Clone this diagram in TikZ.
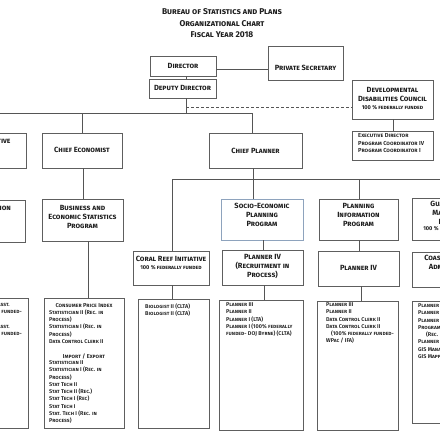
\documentclass[tikz,border=0pt]{standalone}
\usepackage{fontspec}
\setmainfont{Fira Sans}[Letters=SmallCaps, UprightFont={Fira Sans SemiBold}, BoldFont={Fira Sans Bold}]
\usetikzlibrary{fit,calc}
\definecolor{ln}{HTML}{555555}
\definecolor{bd}{HTML}{5E5E5E}
\definecolor{bl}{HTML}{8EA3BD}
\definecolor{tx}{HTML}{1E1E1E}
\tikzset{
  box/.style={draw=bd, line width=0.75pt, inner sep=0pt},
  con/.style={draw=ln, line width=0.75pt},
  ttl/.style={font=\fontsize{7.5}{9}\selectfont\bfseries, text=tx, align=center, inner sep=0pt, text depth=0pt},
  tiny/.style={font=\fontsize{5.6}{6}\selectfont\bfseries, text=tx, inner sep=0pt, text depth=0pt},
  lst/.style={font=\fontsize{5.5}{7.25}\selectfont, text=tx, align=left, inner sep=0pt, anchor=north west},
  lstr/.style={font=\fontsize{5.5}{7.25}\selectfont, text=tx, align=right, inner sep=0pt, anchor=north east},
  hd/.style={font=\fontsize{5.7}{7.25}\selectfont, text=tx, inner sep=0pt, text depth=0pt}
}
\begin{document}
\begin{tikzpicture}[x=1pt,y=-1pt]
\useasboundingbox (0,0) rectangle (440,440);
\clip (0,0) rectangle (440,440);
% title
\node[font=\fontsize{8.4}{11.5}\selectfont\bfseries, text=tx, align=center, inner sep=0pt, text depth=0pt] (title) at (222,23.5) {Bureau of Statistics and Plans\\Organizational Chart\\Fiscal Year 2018};
% boxes
\node[box, fit={(150,56) (216,76)}] (dir) {};
\node[box, fit={(268,46) (343,80)}] (ps) {};
\node[box, fit={(149,79) (216,98)}] (dep) {};
\node[box, fit={(352,80) (433,119)}] (ddc) {};
\node[box, fit={(352,131) (433,160)}] (exe) {};
\node[box, fit={(-56,133) (26,168)}] (adm) {};
\node[box, fit={(42,133) (122,168)}] (ce) {};
\node[box, fit={(209,133) (302,168)}] (cp) {};
\node[box, fit={(-56,200) (25,242)}] (adn) {};
\node[box, fit={(42,199) (123,241)}] (bes) {};
\node[box, draw=bl, fit={(221,199) (303,240)}] (soc) {};
\node[box, fit={(319,199) (398,240)}] (pip) {};
\node[box, fit={(412,198) (496,240)}] (gcm) {};
\node[box, fit={(133,251) (209,285)}] (cor) {};
\node[box, fit={(222,250) (303,285)}] (p4r) {};
\node[box, fit={(318,251) (399,286)}] (p4) {};
\node[box, fit={(412,252) (496,287)}] (coa) {};
\node[box, fit={(-53,298) (28,428)}] (ll) {};
\node[box, fit={(44,298) (124,428)}] (cpi) {};
\node[box, fit={(138,299) (209,428)}] (bio) {};
\node[box, fit={(219,300) (303,430)}] (sl) {};
\node[box, fit={(317,301) (398,430)}] (pl) {};
\node[box, fit={(412,301) (496,423)}] (rl) {};
% box texts
\node[ttl] (dirT) at (183,65.5) {Director};
\node[ttl] (psT) at (305.5,68) {Private Secretary};
\node[ttl] (depT) at (182.5,88) {Deputy Director};
\node[ttl] (ddcT) at (392.5,94) {Developmental\\Disabilities Council};
\node[tiny] (ddcF) at (392.5,107.5) {100 \% federally funded};
\node[lst, font=\fontsize{5.8}{7.5}\selectfont] (exeT) at (358,133.5) {Executive Director\\Program Coordinator IV\\Program Coordinator I};
\node[ttl] (admT) at (-15,145.5) {Administrative\\Officer};
\node[ttl] (ceT) at (82,150) {Chief Economist};
\node[ttl] (cpT) at (255.5,151) {Chief Planner};
\node[ttl] (adnT) at (-15.5,212.5) {Administration\\Program};
\node[ttl] (besT) at (82.5,216.5) {Business and\\Economic Statistics\\Program};
\node[ttl] (socT) at (262,215) {Socio-Economic\\Planning\\Program};
\node[ttl] (pipT) at (358.5,215) {Planning\\Information\\Program};
\node[ttl] (gcmT) at (454,213) {Guam Coastal\\Management\\Program};
\node[tiny] (gcmF) at (454,228) {100 \% federally funded};
\node[ttl] (corT) at (171,259) {Coral Reef Initiative};
\node[tiny] (corF) at (171,267.5) {100 \% federally funded};
\node[ttl] (p4rT) at (262.5,266) {Planner IV\\(Recruitment in\\Process)};
\node[ttl] (p4T) at (358.5,268) {Planner IV};
\node[ttl] (coaT) at (454,262.5) {Coastal Program\\Administrator};
% lists
\node[lstr] (llT) at (22,302.5) {\mbox{Admin. Asst.\hspace{12pt}}\\\mbox{(100\% federally funded-}\\\mbox{WPac / IFA)\hspace{40pt}}\\\mbox{Admin. Asst.\hspace{12pt}}\\\mbox{(100\% federally funded-}\\\mbox{WPac / IFA)\hspace{40pt}}};
\node[hd] (cpiH) at (84,305) {Consumer Price Index};
\node[lst] (cpiT) at (49,309.5) {Statistician II (Rec. in\\Process)\\Statistician I (Rec. in\\Process)\\Data Control Clerk II};
\node[hd] (ieH) at (84,356) {Import / Export};
\node[lst] (ieT) at (49,360.5) {Statistician II\\Statistician I (Rec. in\\Process)\\Stat Tech II\\Stat Tech II (Rec.)\\Stat Tech I (Rec)\\Stat Tech I\\Stat. Tech I (Rec. in\\Process)};
\node[lst] (bioT) at (145,303.5) {Biologist II (CLTA)\\Biologist II (CLTA)};
\node[lst] (slT) at (226,302.5) {Planner III\\Planner II\\Planner I (LTA)\\Planner I (100\% federally\\funded- DOJ Byrne) (CLTA)};
\node[lst] (plT) at (326,302.5) {Planner III\\Planner II\\Data Control Clerk II\\Data Control Clerk II\\\hspace*{5pt}(100\% federally funded-\\WPac / IFA)};
\node[lst] (rlT) at (418,303.5) {Planner IV\\Planner III\\Planner II\\Program Coordinator\\\hspace*{8pt}(Rec. in Process)\\Planner I\\GIS Manager\\GIS Mapping Tech};
% connectors
\coordinate (l69) at (0,69);
\coordinate (l107) at (0,107);
\coordinate (vD) at (186,0);
\coordinate (busL) at (-20,113);
\coordinate (busR) at (252,113);
\coordinate (b2L) at (172,179);
\coordinate (b2R) at (470,179);
\coordinate (vCE) at (82,0);
\coordinate (vCEb) at (83,0);
\coordinate (vB) at (88,0);
\coordinate (vCP) at (253,0);
\coordinate (vPI) at (359,0);
\coordinate (vS) at (263,0);
\coordinate (vS2) at (264,0);
\coordinate (vP2) at (361,0);
\coordinate (vR) at (393,0);
\draw[con] (dir.east |- l69) -- (ps.west |- l69);
\draw[con] (vD |- dir.south) -- (vD |- dep.north);
\draw[con] (vD |- dep.south) -- (vD |- busR);
\draw[con, dash pattern=on 3pt off 2pt] (vD |- l107) -- (ddc.west |- l107);
\draw[con] (busL) -- (busR) -- (busR |- cp.north);
\draw[con] (adm.north |- busL) -- (adm.north);
\draw[con] (vCE |- busL) -- (vCE |- ce.north);
\draw[con] (vCEb |- ce.south) -- (vCEb |- bes.north);
\draw[con] (vB |- bes.south) -- (vB |- cpi.north);
\draw[con] (adm.south) -- (adn.north);
\draw[con] (adn.south) -- (ll.north);
\draw[con] (vR |- ddc.south) -- (vR |- exe.north);
\draw[con] (vCP |- cp.south) -- (vCP |- soc.north);
\draw[con] (b2R) -- (b2L) -- (b2L |- cor.north);
\draw[con] (vPI |- b2L) -- (vPI |- pip.north);
\draw[con] (gcm.north |- b2L) -- (gcm.north);
\draw[con] (vS |- soc.south) -- (vS |- p4r.north);
\draw[con] (vS2 |- p4r.south) -- (vS2 |- sl.north);
\draw[con] (vPI |- pip.south) -- (vPI |- p4.north);
\draw[con] (vP2 |- p4.south) -- (vP2 |- pl.north);
\draw[con] (b2L |- cor.south) -- (b2L |- bio.north);
\draw[con] (gcm.south) -- (coa.north);
\draw[con] (coa.south) -- (rl.north);
\end{tikzpicture}
\end{document}
